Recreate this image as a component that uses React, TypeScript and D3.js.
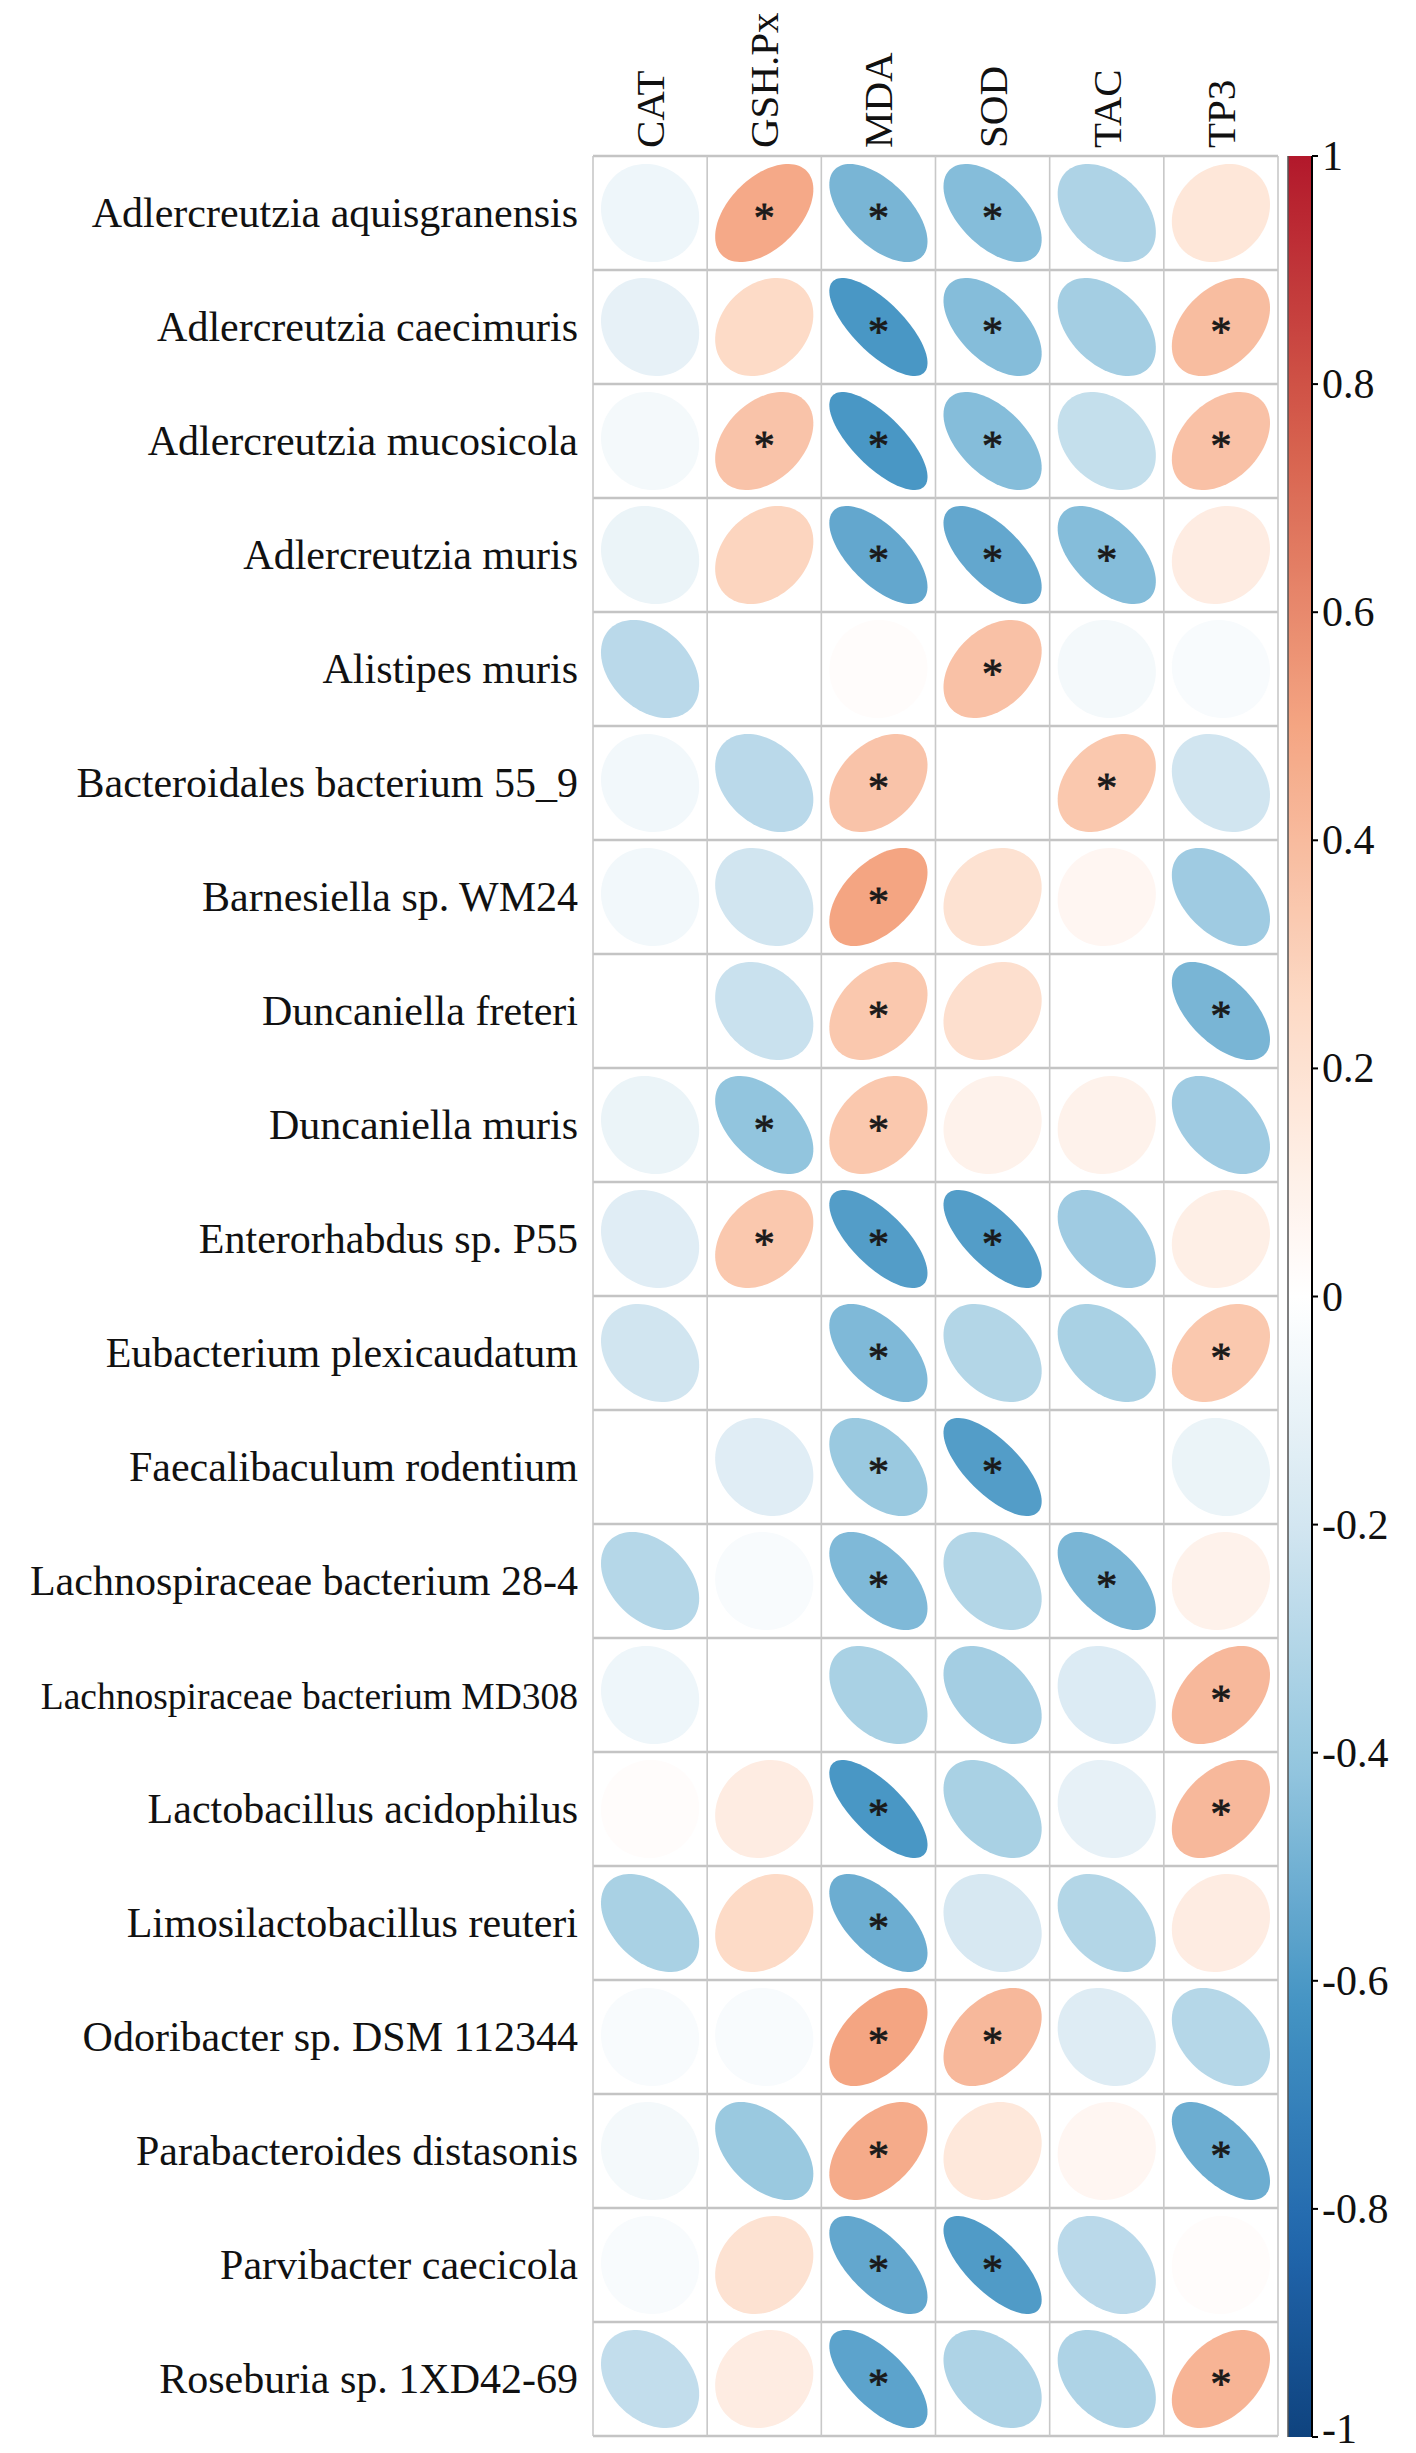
import React from 'react';
import * as d3 from 'd3';

const species = [
  'Adlercreutzia aquisgranensis',
  'Adlercreutzia caecimuris',
  'Adlercreutzia mucosicola',
  'Adlercreutzia muris',
  'Alistipes muris',
  'Bacteroidales bacterium 55_9',
  'Barnesiella sp. WM24',
  'Duncaniella freteri',
  'Duncaniella muris',
  'Enterorhabdus sp. P55',
  'Eubacterium plexicaudatum',
  'Faecalibaculum rodentium',
  'Lachnospiraceae bacterium 28-4',
  'Lachnospiraceae bacterium MD308',
  'Lactobacillus acidophilus',
  'Limosilactobacillus reuteri',
  'Odoribacter sp. DSM 112344',
  'Parabacteroides distasonis',
  'Parvibacter caecicola',
  'Roseburia sp. 1XD42-69',
];

const measures = ['CAT', 'GSH.Px', 'MDA', 'SOD', 'TAC', 'TP3'];

// correlation per measure, one value per species (same order as above)
const catR = [-0.09, -0.13, -0.06, -0.11, -0.34, -0.07, -0.07, 0.0, -0.11, -0.17, -0.25, 0.0, -0.36, -0.09, 0.02, -0.41, -0.04, -0.06, -0.04, -0.31];
const gshR = [0.48, 0.25, 0.36, 0.28, 0.0, -0.34, -0.25, -0.28, -0.5, 0.34, 0.0, -0.17, -0.04, 0.0, 0.13, 0.25, -0.04, -0.47, 0.2, 0.13];
const mdaR = [-0.58, -0.73, -0.73, -0.65, 0.02, 0.36, 0.5, 0.34, 0.34, -0.7, -0.56, -0.47, -0.56, -0.41, -0.73, -0.62, 0.5, 0.47, -0.65, -0.67];
const sodR = [-0.54, -0.54, -0.54, -0.65, 0.37, 0.0, 0.2, 0.22, 0.09, -0.7, -0.37, -0.7, -0.37, -0.43, -0.41, -0.22, 0.41, 0.16, -0.71, -0.39];
const tacR = [-0.39, -0.43, -0.3, -0.54, -0.06, 0.34, 0.06, 0.0, 0.09, -0.45, -0.41, 0.0, -0.58, -0.19, -0.13, -0.37, -0.18, 0.06, -0.34, -0.39];
const tp3R = [0.17, 0.39, 0.37, 0.13, -0.04, -0.25, -0.45, -0.58, -0.45, 0.11, 0.34, -0.11, 0.09, 0.41, 0.41, 0.13, -0.36, -0.62, 0.02, 0.43];

// significance flags (1 = "*")
const catSig = [0, 0, 0, 0, 0, 0, 0, 0, 0, 0, 0, 0, 0, 0, 0, 0, 0, 0, 0, 0];
const gshSig = [1, 0, 1, 0, 0, 0, 0, 0, 1, 1, 0, 0, 0, 0, 0, 0, 0, 0, 0, 0];
const mdaSig = [1, 1, 1, 1, 0, 1, 1, 1, 1, 1, 1, 1, 1, 0, 1, 1, 1, 1, 1, 1];
const sodSig = [1, 1, 1, 1, 1, 0, 0, 0, 0, 1, 0, 1, 0, 0, 0, 0, 1, 0, 1, 0];
const tacSig = [0, 0, 0, 1, 0, 1, 0, 0, 0, 0, 0, 0, 1, 0, 0, 0, 0, 0, 0, 0];
const tp3Sig = [0, 1, 1, 0, 0, 0, 0, 1, 0, 0, 1, 0, 0, 1, 1, 0, 0, 1, 0, 1];

const legendTicks = [1, 0.8, 0.6, 0.4, 0.2, 0, -0.2, -0.4, -0.6, -0.8, -1];

// RdBu, blue end first
const palette = ['#0A3A73', '#2166AC', '#4393C3', '#92C5DE', '#D1E5F0', '#FFFFFF', '#FDDBC7', '#F4A582', '#D6604D', '#B2182B', '#A50F2A'];

const W = 1416;
const H = 2453;
const gridLeft = 593;
const gridRight = 1278;
const gridTop = 156;
const gridBottom = 2436;
const barLeft = 1288;
const barRight = 1312;
const FONT = '"Liberation Serif", "Times New Roman", serif';

const App: React.FC = () => {
  const values = [catR, gshR, mdaR, sodR, tacR, tp3R];
  const sigs = [catSig, gshSig, mdaSig, sodSig, tacSig, tp3Sig];

  const x = d3.scaleBand<string>().domain(measures).range([gridLeft, gridRight]);
  const y = d3.scaleBand<string>().domain(species).range([gridTop, gridBottom]);
  const rdbu = d3.scaleLinear<string>()
    .domain(d3.range(11).map(i => -1 + i * 0.2))
    .range(palette)
    .interpolate(d3.interpolateRgb)
    .clamp(true);
  // the printed colours are paler than the raw palette
  const color = (v: number) => rdbu(v * 0.8);
  const barColor = (v: number) => (v < 0 ? rdbu(v * 0.96) : color(v));
  const yBar = d3.scaleLinear().domain([-1, 1]).range([gridBottom + 1, gridTop]);

  const cw = x.bandwidth();
  const ch = y.bandwidth();

  // corrplot-style ellipse: x = cos(t + acos(r)/2)/2, y = cos(t - acos(r)/2)/2
  const ellipse = (r: number, cx: number, cy: number) => {
    const a = Math.acos(Math.max(-1, Math.min(1, r)));
    const pts: [number, number][] = d3.range(0, 99).map(i => {
      const t = (i / 98) * 2 * Math.PI;
      return [
        cx + 0.86 * (Math.cos(t + a / 2) / 2) * cw,
        cy - 0.86 * (Math.cos(t - a / 2) / 2) * ch,
      ];
    });
    return d3.line().curve(d3.curveLinearClosed)(pts) || '';
  };

  const gradStops = d3.range(0, 101).map(i => {
    const v = 1 - i / 50;
    return { offset: `${i}%`, c: barColor(v) };
  });

  return (
    <svg width={W} height={H} style={{ position: 'absolute', left: 0, top: 0, background: '#fff' }}>
      <defs>
        <linearGradient id="bar" x1="0" y1="0" x2="0" y2="1">
          {gradStops.map((s, i) => <stop key={i} offset={s.offset} stopColor={s.c} />)}
        </linearGradient>
      </defs>
      <rect width={W} height={H} fill="#fff" />

      {/* ellipses */}
      {measures.map((m, j) =>
        species.map((s, i) => {
          const cx = (x(m) as number) + cw / 2;
          const cy = (y(s) as number) + ch / 2;
          const r = values[j][i];
          return (
            <g key={`${m}-${s}`}>
              <path d={ellipse(r, cx, cy)} fill={color(r)} />
              {sigs[j][i] ? (
                <text
                  x={cx}
                  y={cy + 19}
                  textAnchor="middle"
                  fontFamily={FONT}
                  fontSize={42}
                  fill="#1a1a1a"
                  stroke="#1a1a1a"
                  strokeWidth={0.8}
                >
                  *
                </text>
              ) : null}
            </g>
          );
        })
      )}

      {/* grid */}
      {d3.range(species.length + 1).map(i => {
        const yy = gridTop + i * ch;
        return <line key={`h${i}`} x1={gridLeft} x2={gridRight} y1={yy} y2={yy} stroke="#c4c4c4" strokeWidth={2.5} />;
      })}
      {d3.range(measures.length + 1).map(j => {
        const xx = gridLeft + j * cw;
        return <line key={`v${j}`} x1={xx} x2={xx} y1={gridTop} y2={gridBottom} stroke="#c8c8c8" strokeWidth={1.6} />;
      })}

      {/* row labels */}
      {species.map(s => (
        <text
          key={s}
          x={578}
          y={(y(s) as number) + ch / 2 + 14}
          textAnchor="end"
          fontFamily={FONT}
          fontSize={s.length > 30 ? 37.5 : 42}
          fill="#111"
        >
          {s}
        </text>
      ))}

      {/* column labels */}
      {measures.map(m => {
        const cx = (x(m) as number) + cw / 2 + 14;
        return (
          <text
            key={m}
            transform={`translate(${cx},148) rotate(-90)`}
            fontFamily={FONT}
            fontSize={41}
            fill="#111"
          >
            {m}
          </text>
        );
      })}

      {/* colour legend */}
      <rect x={barLeft} y={gridTop} width={barRight - barLeft} height={gridBottom + 1 - gridTop} fill="url(#bar)" />
      <line x1={barLeft} x2={barLeft} y1={gridTop} y2={gridBottom + 1} stroke="#555" strokeWidth={1.5} />
      <line x1={barRight} x2={barRight} y1={gridTop} y2={gridBottom + 1} stroke="#000" strokeWidth={2} />
      {legendTicks.map(t => (
        <g key={t}>
          <line x1={barRight} x2={barRight + 6} y1={yBar(t)} y2={yBar(t)} stroke="#000" strokeWidth={2} />
          <text
            x={barRight + 10}
            y={yBar(t) + (t === -1 ? 6 : 14)}
            fontFamily={FONT}
            fontSize={42}
            fill="#111"
          >
            {`${t}`}
          </text>
        </g>
      ))}
    </svg>
  );
};

export default App;
